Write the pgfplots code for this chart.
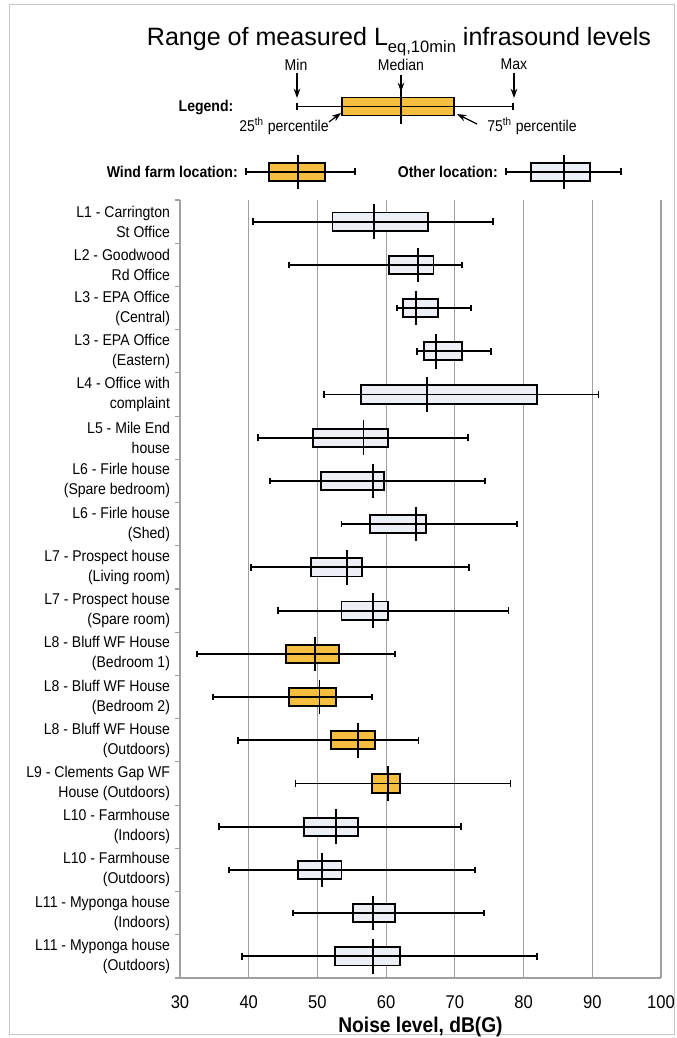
\documentclass[border=0pt]{standalone}
\usepackage{fontspec}
\setmainfont{Liberation Sans}
\newfontfamily\narrow[FakeStretch=0.9]{Liberation Sans}
\usepackage{pgfplots}
\pgfplotsset{compat=1.18}
\usepgfplotslibrary{statistics}
\usetikzlibrary{arrows.meta}
\definecolor{wfyellow}{RGB}{245,190,62}
\definecolor{otherfill}{RGB}{236,240,246}
\definecolor{gridgray}{RGB}{160,160,160}
\pgfplotsset{
  boxplot/draw/median/.code={%
    \draw (boxplot cs:\pgfplotsboxplotvalue{lower quartile}) -- (boxplot cs:\pgfplotsboxplotvalue{upper quartile});
    \draw (boxplot box cs:\pgfplotsboxplotvalue{median},-0.45) -- (boxplot box cs:\pgfplotsboxplotvalue{median},1.45);
  },
  bx/.style={draw=black, line width=1.4pt, boxplot/every box/.style={fill=#1}},
}
\begin{document}
\begin{tikzpicture}
\useasboundingbox (0pt,0pt) rectangle (507pt,778.5pt);
\fill[white] (0pt,0pt) rectangle (507pt,778.5pt);
\begin{scope}[shift={(0pt,778.5pt)}, x=0.75pt, y=-0.75pt]
\draw[gray!45, line width=0.75pt] (9,5) rectangle (674,1035);
% title
\node[anchor=base, font=\fontsize{18.8}{22}\selectfont, inner sep=0pt] at (399,45.7)
  {Range of measured L\raisebox{-5pt}{\fontsize{12.4}{14}\selectfont eq,10min} infrasound levels};
% legend texts
\begin{scope}[font=\narrow\fontsize{11.7}{14}\selectfont]
\node[anchor=base, inner sep=0pt] at (296,70.6) {Min};
\node[anchor=base, inner sep=0pt] at (401,70.6) {Median};
\node[anchor=base, inner sep=0pt] at (514,70) {Max};
\node[anchor=base, inner sep=0pt, font=\narrow\bfseries\fontsize{11.7}{14}\selectfont] at (206,111.6) {Legend:};
\node[anchor=base, inner sep=0pt] at (284,131.6) {25\textsuperscript{th} percentile};
\node[anchor=base, inner sep=0pt] at (532,131.6) {75\textsuperscript{th} percentile};
\node[anchor=base east, inner sep=0pt, font=\narrow\bfseries\fontsize{11.7}{14}\selectfont] at (238,177.6) {Wind farm location:};
\node[anchor=base east, inner sep=0pt, font=\narrow\bfseries\fontsize{11.7}{14}\selectfont] at (498,177.6) {Other location:};
\end{scope}
\begin{scope}[line width=0.9pt, -{Stealth[length=7pt,width=5pt]}]
\draw (297,73) -- (297,98);
\draw (401,75) -- (401,92);
\draw (514,73) -- (514,98);
\draw (329,122) -- (341,113);
\draw (477,124) -- (457,114);
\end{scope}
\end{scope}

% legend glyphs
\begin{axis}[at={(0pt,778.5pt)}, anchor=north west, scale only axis, width=507pt, height=150pt,
  xmin=0, xmax=676, ymin=0, ymax=200, y dir=reverse, hide axis, clip=false,
  boxplot/draw direction=x]
\addplot[bx=wfyellow, line width=1.1pt, boxplot prepared={lower whisker=297, lower quartile=342, median=401, upper quartile=454, upper whisker=513, draw position=106.5, box extend=18.5, whisker extend=7}] coordinates {};
\addplot[bx=wfyellow, line width=1.1pt, boxplot prepared={lower whisker=246, lower quartile=269, median=298, upper quartile=325, upper whisker=355, draw position=172, box extend=18, whisker extend=7}] coordinates {};
\addplot[bx=otherfill, line width=1.1pt, boxplot prepared={lower whisker=506, lower quartile=531, median=564, upper quartile=590, upper whisker=621, draw position=172, box extend=18, whisker extend=7}] coordinates {};
\end{axis}

% main chart
\begin{axis}[
  at={(135pt,45pt)}, anchor=south west,
  scale only axis, width=360.75pt, height=583.5pt,
  xmin=30, xmax=100, ymin=0.5, ymax=18.5, y dir=reverse,
  boxplot/draw direction=x,
  axis x line*=bottom, axis y line*=left,
  axis line style={draw=gridgray, line width=0.9pt, -},
  xtick={30,40,...,100}, xmajorgrids,
  grid style={draw=gridgray, line width=0.9pt},
  ytick={1,...,18},
  yticklabels={{L1 - Carrington\\St Office},{L2 - Goodwood\\Rd Office},{L3 - EPA Office\\(Central)},{L3 - EPA Office\\(Eastern)},{L4 - Office with\\complaint},{L5 - Mile End\\house},{L6 - Firle house\\(Spare bedroom)},{L6 - Firle house\\(Shed)},{L7 - Prospect house\\(Living room)},{L7 - Prospect house\\(Spare room)},{L8 - Bluff WF House\\(Bedroom 1)},{L8 - Bluff WF House\\(Bedroom 2)},{L8 - Bluff WF House\\(Outdoors)},{L9 - Clements Gap WF\\House (Outdoors)},{L10 - Farmhouse\\(Indoors)},{L10 - Farmhouse\\(Outdoors)},{L11 - Myponga house\\(Indoors)},{L11 - Myponga house\\(Outdoors)}},
  minor ytick={0.5,1.5,...,18.5},
  tick align=outside, major tick length=0pt, minor tick length=4pt,
  minor tick style={draw=gridgray, line width=0.8pt},
  ytick pos=left, xtick pos=bottom,
  /pgf/number format/assume math mode=true,
  xticklabel style={font=\narrow\fontsize{13.8}{16}\selectfont, anchor=center, yshift=-18pt},
  yticklabel style={font=\narrow\fontsize{11.7}{15}\selectfont, align=right, xshift=-4pt},
  xlabel={Noise level, dB(G)},
  xlabel style={font=\narrow\bfseries\fontsize{16}{18}\selectfont, at={(axis description cs:0.5,0)}, anchor=center, yshift=-37pt},
  boxplot/box extend=0.42, boxplot/whisker extend=0.15,
  clip=false,
]
\addplot[bx=otherfill, boxplot prepared={lower whisker=40.6, lower quartile=52.2, median=58.2, upper quartile=66.1, upper whisker=75.5, draw position=1}] coordinates {};
\addplot[bx=otherfill, boxplot prepared={lower whisker=45.8, lower quartile=60.4, median=64.6, upper quartile=66.9, upper whisker=71.1, draw position=2}] coordinates {};
\addplot[bx=otherfill, boxplot prepared={lower whisker=61.6, lower quartile=62.5, median=64.4, upper quartile=67.5, upper whisker=72.3, draw position=3}] coordinates {};
\addplot[bx=otherfill, boxplot prepared={lower whisker=64.5, lower quartile=65.5, median=67.3, upper quartile=71.0, upper whisker=75.2, draw position=4}] coordinates {};
\addplot[bx=otherfill, boxplot prepared={lower whisker=50.9, lower quartile=56.3, median=66.0, upper quartile=81.9, upper whisker=90.9, draw position=5}] coordinates {};
\addplot[bx=otherfill, boxplot prepared={lower whisker=41.3, lower quartile=49.3, median=56.7, upper quartile=60.3, upper whisker=71.9, draw position=6}] coordinates {};
\addplot[bx=otherfill, boxplot prepared={lower whisker=43.1, lower quartile=50.5, median=58.1, upper quartile=59.7, upper whisker=74.4, draw position=7}] coordinates {};
\addplot[bx=otherfill, boxplot prepared={lower whisker=53.5, lower quartile=57.7, median=64.4, upper quartile=65.8, upper whisker=79.1, draw position=8}] coordinates {};
\addplot[bx=otherfill, boxplot prepared={lower whisker=40.3, lower quartile=49.1, median=54.3, upper quartile=56.5, upper whisker=72.1, draw position=9}] coordinates {};
\addplot[bx=otherfill, boxplot prepared={lower whisker=44.3, lower quartile=53.5, median=58.1, upper quartile=60.3, upper whisker=77.8, draw position=10}] coordinates {};
\addplot[bx=wfyellow, boxplot prepared={lower whisker=32.5, lower quartile=45.4, median=49.6, upper quartile=53.1, upper whisker=61.3, draw position=11}] coordinates {};
\addplot[bx=wfyellow, boxplot prepared={lower whisker=34.8, lower quartile=45.8, median=50.3, upper quartile=52.7, upper whisker=58.0, draw position=12}] coordinates {};
\addplot[bx=wfyellow, boxplot prepared={lower whisker=38.4, lower quartile=52.0, median=55.9, upper quartile=58.4, upper whisker=64.7, draw position=13}] coordinates {};
\addplot[bx=wfyellow, boxplot prepared={lower whisker=46.8, lower quartile=58.0, median=60.3, upper quartile=62.0, upper whisker=78.1, draw position=14}] coordinates {};
\addplot[bx=otherfill, boxplot prepared={lower whisker=35.7, lower quartile=48.0, median=52.7, upper quartile=55.9, upper whisker=70.9, draw position=15}] coordinates {};
\addplot[bx=otherfill, boxplot prepared={lower whisker=37.1, lower quartile=47.2, median=50.7, upper quartile=53.5, upper whisker=72.9, draw position=16}] coordinates {};
\addplot[bx=otherfill, boxplot prepared={lower whisker=46.4, lower quartile=55.2, median=58.1, upper quartile=61.3, upper whisker=74.2, draw position=17}] coordinates {};
\addplot[bx=otherfill, boxplot prepared={lower whisker=39.0, lower quartile=52.6, median=58.1, upper quartile=62.0, upper whisker=82.0, draw position=18}] coordinates {};
\end{axis}
\end{tikzpicture}
\end{document}
